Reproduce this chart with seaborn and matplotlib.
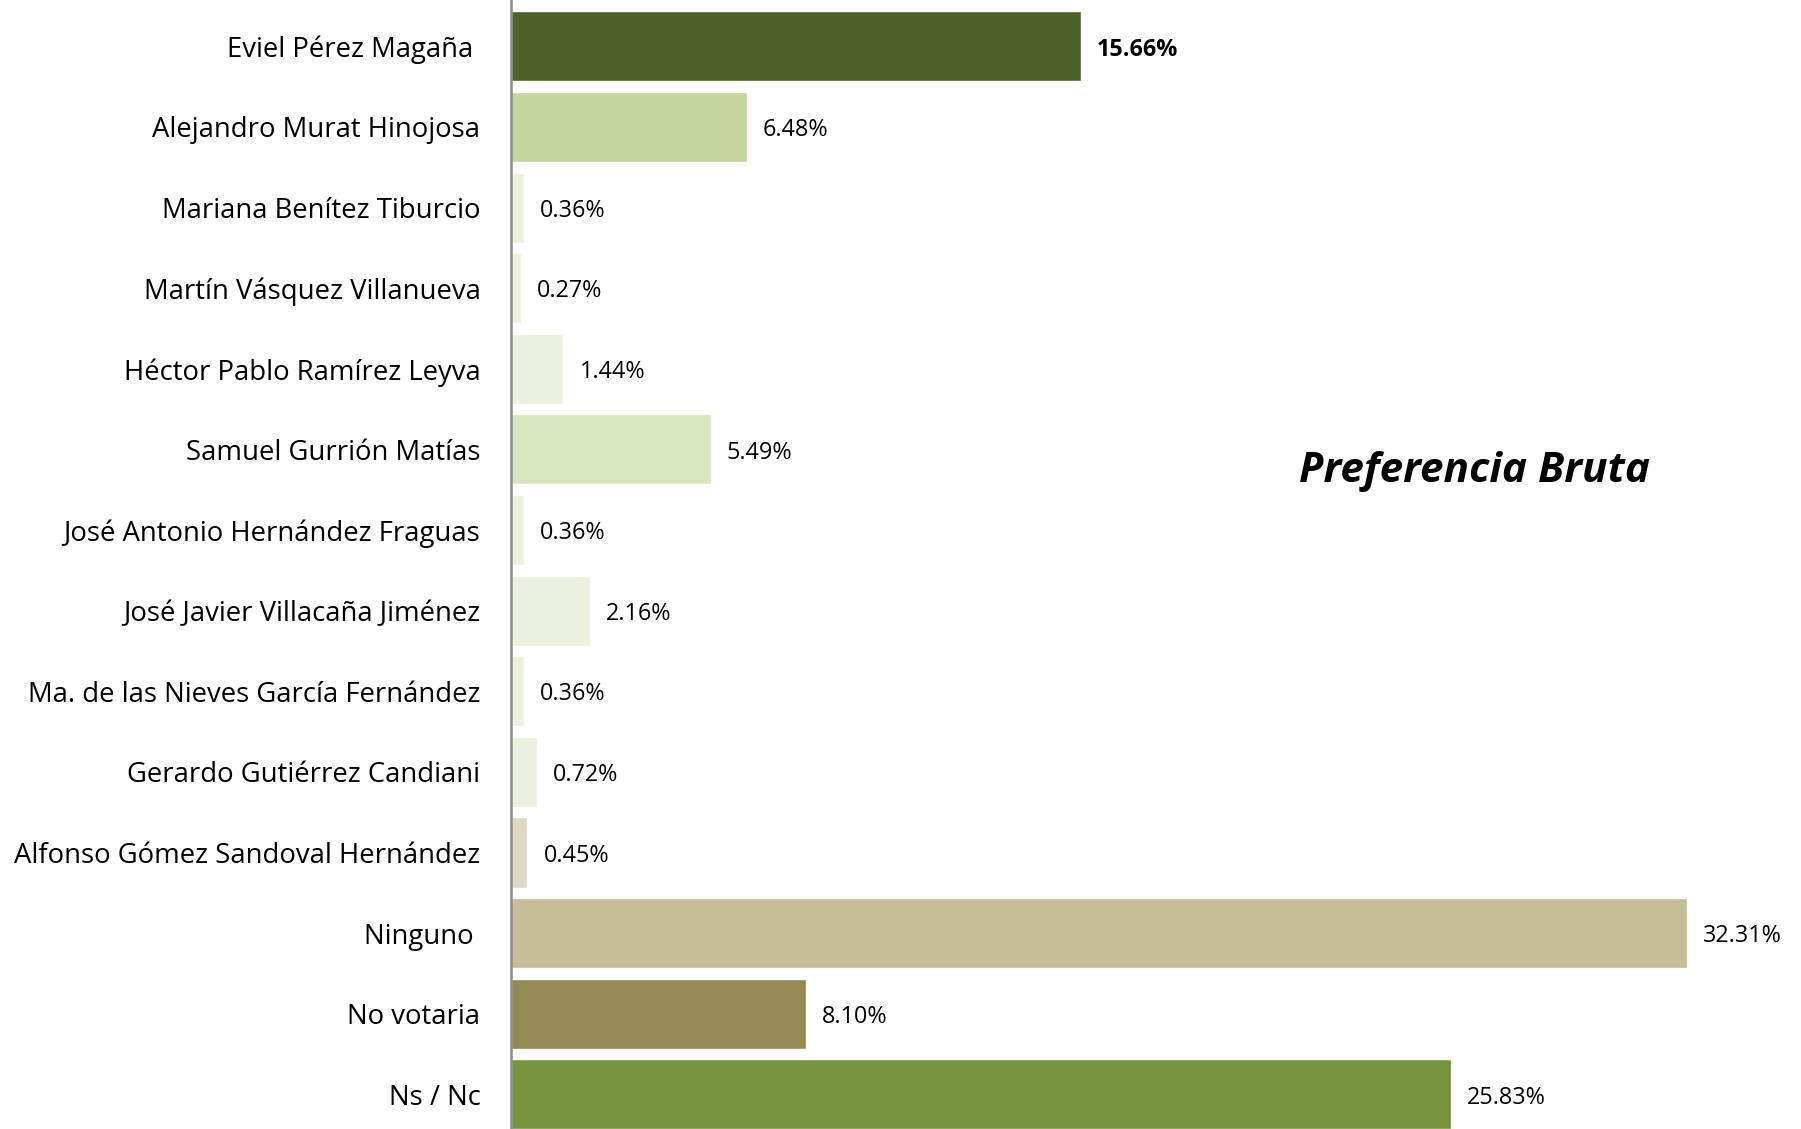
import matplotlib
matplotlib.use("Agg")
import matplotlib.pyplot as plt
import seaborn as sns
import pandas as pd

# Data
candidates = [
    "Eviel Pérez Magaña ",
    "Alejandro Murat Hinojosa",
    "Mariana Benítez Tiburcio",
    "Martín Vásquez Villanueva",
    "Héctor Pablo Ramírez Leyva",
    "Samuel Gurrión Matías",
    "José Antonio Hernández Fraguas",
    "José Javier Villacaña Jiménez",
    "Ma. de las Nieves García Fernández",
    "Gerardo Gutiérrez Candiani",
    "Alfonso Gómez Sandoval Hernández",
    "Ninguno ",
    "No votaria",
    "Ns / Nc",
]
percentages = [15.66, 6.48, 0.36, 0.27, 1.44, 5.49, 0.36, 2.16, 0.36, 0.72, 0.45, 32.31, 8.10, 25.83]
bar_colors = [
    "#4F6228", "#C3D69B", "#EBF1DE", "#EBF1DE", "#EBF1DE", "#D7E4BD", "#EBF1DE",
    "#EBF1DE", "#EBF1DE", "#EBF1DE", "#DDD9C3", "#C4BD97", "#948A54", "#77933C",
]
chart_title = "Preferencia Bruta"

df = pd.DataFrame({"candidate": candidates, "pct": percentages})

sns.set_theme(style="white")
plt.rcParams["font.family"] = ["Open Sans", "DejaVu Sans"]

fig = plt.figure(figsize=(18.01, 11.29), dpi=100)
W, H = 1801, 1129
ax_left, ax_right = 511, 1795
ax = fig.add_axes([ax_left / W, 0, (ax_right - ax_left) / W, 1])

sns.barplot(
    data=df, y="candidate", x="pct", hue="candidate",
    palette=bar_colors, legend=False, width=0.87, orient="h", ax=ax,
    saturation=1,
)

px_per_pct = 36.4
ax.set_xlim(0, (ax_right - ax_left) / px_per_pct)
ax.set_ylim(13.43, -0.575)

for s in ["top", "right", "bottom"]:
    ax.spines[s].set_visible(False)
ax.spines["left"].set_color("#8C8C8C")
ax.spines["left"].set_linewidth(1.8)

ax.set_xticks([])
ax.set_xlabel("")
ax.set_ylabel("")
ax.tick_params(axis="y", length=0, pad=22, labelsize=19.8, labelcolor="black")

# value labels, nudged slightly down to sit on the bar centre
for i, v in enumerate(percentages):
    ax.text(v + 0.44, i + 0.04, f"{v:.2f}%", va="center", ha="left", fontsize=16.8,
            color="black", fontweight="bold" if i == 0 else "normal")

fig.text(1474 / W, 1 - 472 / H, chart_title, ha="center", va="center",
         fontsize=30.4, fontweight="bold", fontstyle="italic", color="black")

fig.savefig("out.png", dpi=100)
